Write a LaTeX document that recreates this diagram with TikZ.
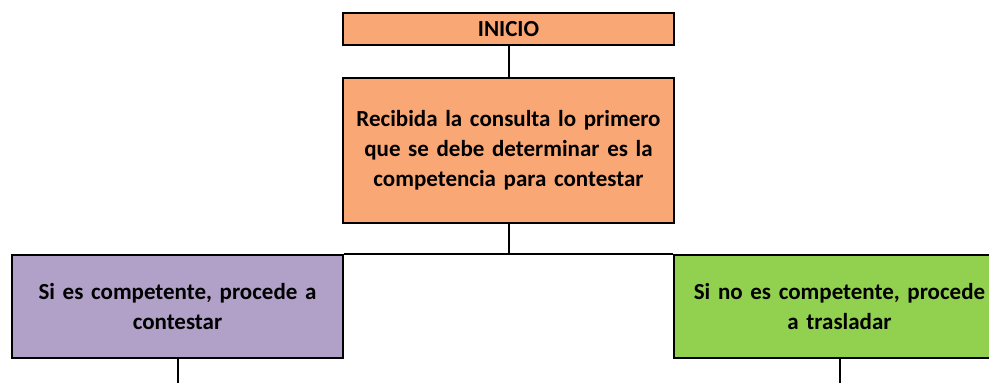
\documentclass[tikz,border=0pt]{standalone}
\usepackage{fontspec}
\setmainfont{Carlito}
\definecolor{orangebox}{HTML}{FAA776}
\definecolor{purplebox}{HTML}{B1A0C7}
\definecolor{greenbox}{HTML}{92D050}
\tikzset{
  box/.style={draw=black, line width=2pt, anchor=north west, inner sep=0pt,
    font=\fontsize{23}{30}\selectfont\bfseries, align=center},
  link/.style={draw=black, line width=2pt}
}
\begin{document}
\begin{tikzpicture}[x=1pt,y=-1pt]
\useasboundingbox (0,0) rectangle (989,383);
\clip (0,0) rectangle (989,383);
\node[box, fill=orangebox, minimum width=331pt, minimum height=32pt] (ini) at (342,12) {INICIO};
\node[box, fill=orangebox, minimum width=331pt, minimum height=145pt, text width=325pt] (mid) at (342,77) {Recibida la consulta lo primero\\que se debe determinar es la\\competencia para contestar};
\node[box, fill=purplebox, minimum width=331pt, minimum height=103pt, text width=325pt] (left) at (11,254) {Si es competente, procede a\\contestar};
\node[box, fill=greenbox, minimum width=331pt, minimum height=103pt, text width=325pt] (right) at (673,254) {Si no es competente, procede\\a trasladar};
\coordinate (jn) at (507.5,254);
\coordinate (lend) at (176.5,383);
\coordinate (rend) at (838.5,383);
\draw[link] (ini.south) -- (ini.south |- mid.north);
\draw[link] (mid.south) -- (mid.south |- jn);
\draw[link] (left.north east) -- (right.north west);
\draw[link] (left.south) -- (left.south |- lend);
\draw[link] (right.south) -- (right.south |- rend);
\end{tikzpicture}
\end{document}
